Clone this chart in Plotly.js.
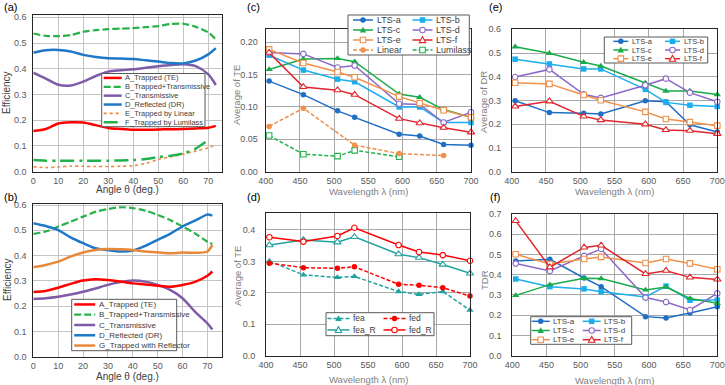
<!DOCTYPE html>
<html>
<head>
<meta charset="utf-8">
<script src="https://cdn.plot.ly/plotly-3.0.1.min.js"></script>
<style>body{margin:0;} #chart{width:725px;height:385px;}</style>
</head>
<body>
<div id="chart"></div>
<script>
// ---- (a) efficiency vs angle, without reflector
var angleA = [0, 5, 10, 15, 20, 25, 30, 35, 40, 45, 50, 55, 60, 65, 70, 73];
var aTrapped = [0.158, 0.166, 0.187, 0.192, 0.191, 0.181, 0.170, 0.166, 0.163, 0.163, 0.164, 0.165, 0.166, 0.168, 0.171, 0.178];
var aTrappedTrans = [0.537, 0.528, 0.527, 0.531, 0.544, 0.550, 0.554, 0.556, 0.558, 0.562, 0.566, 0.574, 0.575, 0.563, 0.541, 0.514];
var aTransmissive = [0.385, 0.362, 0.338, 0.335, 0.350, 0.372, 0.389, 0.394, 0.398, 0.404, 0.410, 0.415, 0.418, 0.410, 0.378, 0.337];
var aReflected = [0.462, 0.472, 0.473, 0.467, 0.454, 0.446, 0.441, 0.440, 0.438, 0.433, 0.428, 0.422, 0.421, 0.432, 0.456, 0.480];
var aLinear = [0.019, 0.016, 0.018, 0.022, 0.021, 0.020, 0.020, 0.021, 0.023, 0.032, 0.048, 0.058, 0.069, 0.080, 0.093, 0.104];
var aLumilass = [0.045, 0.043, 0.043, 0.043, 0.043, 0.043, 0.043, 0.044, 0.045, 0.049, 0.057, 0.062, 0.071, 0.090, 0.123, null];

// ---- (b) efficiency vs angle, with reflector
var angleB = [0, 5, 10, 15, 20, 25, 30, 35, 40, 45, 50, 55, 60, 65, 70, 72];
var bTrapped = [0.256, 0.260, 0.273, 0.288, 0.301, 0.306, 0.303, 0.297, 0.290, 0.286, 0.281, 0.277, 0.284, 0.296, 0.320, 0.337];
var bTrappedTrans = [0.486, 0.495, 0.515, 0.534, 0.554, 0.573, 0.584, 0.591, 0.588, 0.578, 0.561, 0.541, 0.515, 0.488, 0.455, 0.446];
var bTransmissive = [0.228, 0.231, 0.237, 0.246, 0.257, 0.270, 0.284, 0.295, 0.301, 0.297, 0.284, 0.264, 0.231, 0.178, 0.132, 0.108];
var bReflected = [0.528, 0.517, 0.501, 0.472, 0.449, 0.429, 0.422, 0.416, 0.420, 0.438, 0.462, 0.486, 0.515, 0.538, 0.562, 0.558];
var bWithReflector = [0.354, 0.363, 0.376, 0.396, 0.412, 0.422, 0.426, 0.425, 0.422, 0.416, 0.413, 0.409, 0.412, 0.411, 0.416, 0.442];

// ---- (c)-(f) vs wavelength
var wavelength = [405, 455, 505, 530, 595, 625, 660, 700];
var teA = [0.140, 0.119, 0.094, 0.084, 0.058, 0.055, 0.042, 0.041];
var teB = [0.180, 0.157, 0.143, 0.139, 0.100, 0.100, 0.076, 0.076];
var teC = [0.158, 0.174, 0.175, 0.170, 0.120, 0.115, 0.096, 0.084];
var teD = [0.184, 0.182, 0.161, 0.164, 0.105, 0.104, 0.076, 0.092];
var teE = [0.189, 0.168, 0.154, 0.146, 0.116, 0.106, 0.095, 0.084];
var teF = [0.184, 0.131, 0.126, 0.119, 0.082, 0.075, 0.068, 0.061];
var wlLinear = [405, 455, 530, 595, 660];
var teLinear = [0.070, 0.098, 0.041, 0.028, 0.025];
var wlLumilass = [405, 455, 505, 530, 595];
var teLumilass = [0.056, 0.027, 0.024, 0.033, 0.023];

var fea = [0.301, 0.257, 0.249, 0.252, 0.204, 0.195, 0.204, 0.145];
var fed = [0.294, 0.280, 0.278, 0.283, 0.227, 0.224, 0.216, 0.190];
var feaR = [0.352, 0.368, 0.361, 0.378, 0.323, 0.312, 0.290, 0.262];
var fedR = [0.377, 0.363, 0.381, 0.407, 0.352, 0.330, 0.320, 0.302];

var drA = [0.299, 0.249, 0.246, 0.243, 0.299, 0.295, 0.198, 0.167];
var drB = [0.474, 0.454, 0.433, 0.433, 0.347, 0.292, 0.280, 0.275];
var drC = [0.526, 0.499, 0.461, 0.445, 0.374, 0.340, 0.340, 0.325];
var drD = [0.399, 0.431, 0.326, 0.311, 0.364, 0.392, 0.333, 0.295];
var drE = [0.375, 0.370, 0.323, 0.301, 0.252, 0.222, 0.209, 0.194];
var drF = [0.275, 0.297, 0.233, 0.218, 0.200, 0.176, 0.173, 0.160];

var tdrA = [0.468, 0.476, 0.384, 0.341, 0.193, 0.186, 0.211, 0.242];
var tdrB = [0.379, 0.341, 0.330, 0.316, 0.290, 0.344, 0.274, 0.275];
var tdrC = [0.298, 0.351, 0.382, 0.381, 0.325, 0.339, 0.283, 0.259];
var tdrD = [0.455, 0.419, 0.493, 0.527, 0.287, 0.265, 0.226, 0.308];
var tdrE = [0.501, 0.453, 0.478, 0.488, 0.458, 0.478, 0.456, 0.427];
var tdrF = [0.666, 0.437, 0.535, 0.545, 0.404, 0.420, 0.387, 0.377];

var W = 725, H = 385;
var FONT = 'Liberation Sans, Arial, sans-serif';

// styles
var sA = {name: 'A_Trapped (TE)', color: '#FF0000', width: 2.5};
var sB = {name: 'B_Trapped+Transmissive', color: '#27B24A', width: 2.2, dash: '7px,3px'};
var sC = {name: 'C_Transmissive', color: '#7D5BA6', width: 2.5};
var sD = {name: 'D_Reflected (DR)', color: '#1F77C8', width: 2.5};
var sE = {name: 'E_Trapped by Linear', color: '#F0883A', width: 1.6, dash: 'dot'};
var sF = {name: 'F_Trapped by Lumilass', color: '#22B24C', width: 2.5, dash: '14px,5px,3px,5px'};
var sG = {name: 'G_Trapped with Reflector', color: '#E8893A', width: 2.5};

var ltsA = {name: 'LTS-a', color: '#1F6FC5', symbol: 'circle'};
var ltsB = {name: 'LTS-b', color: '#1AAEEF', symbol: 'square'};
var ltsC = {name: 'LTS-c', color: '#1AAB4B', symbol: 'triangle-up'};
var ltsD = {name: 'LTS-d', color: '#8C68C9', symbol: 'circle', open: true};
var ltsE = {name: 'LTS-e', color: '#F0904A', symbol: 'square', open: true};
var ltsF = {name: 'LTS-f', color: '#E0262C', symbol: 'triangle-up', open: true};
var sLinear = {name: 'Linear', color: '#F0904A', symbol: 'circle', dash: '4px,2px'};
var sLumilass = {name: 'Lumilass', color: '#25B24E', symbol: 'square', open: true, dash: '4px,2px'};
var sFea = {name: 'fea', color: '#1FA3A0', symbol: 'triangle-up', dash: '4px,2px'};
var sFed = {name: 'fed', color: '#FF0000', symbol: 'circle', dash: '4px,2px'};
var sFeaR = {name: 'fea_R', color: '#1FA3A0', symbol: 'triangle-up', open: true};
var sFedR = {name: 'fed_R', color: '#FF0000', symbol: 'circle', open: true};

function curve(xs, ys, st, n) {
  return {x: xs, y: ys, xaxis: 'x' + n, yaxis: 'y' + n, mode: 'lines', name: st.name,
    line: {color: st.color, width: st.width, dash: st.dash || 'solid', shape: 'spline', smoothing: 0.8},
    showlegend: false, hoverinfo: 'skip', cliponaxis: false};
}
function markerOf(st, size) {
  var s = st.symbol.indexOf('triangle') === 0 ? size + 1 : size;
  return {symbol: st.symbol, size: s, color: st.open ? '#FFFFFF' : st.color,
    line: {color: st.color, width: st.open ? 1.1 : 0}};
}
function series(xs, ys, st, n) {
  return {x: xs, y: ys, xaxis: 'x' + n, yaxis: 'y' + n, mode: 'lines+markers', name: st.name,
    line: {color: st.color, width: 1.5, dash: st.dash || 'solid'},
    marker: markerOf(st, 5.5), showlegend: false, hoverinfo: 'skip', cliponaxis: false};
}

var data = [];
[[aTrappedTrans, sB], [aTransmissive, sC], [aReflected, sD], [aLinear, sE], [aLumilass, sF], [aTrapped, sA]]
  .forEach(function (p) { data.push(curve(angleA, p[0], p[1], '')); });
[[bTrappedTrans, sB], [bTransmissive, sC], [bReflected, sD], [bWithReflector, sG], [bTrapped, sA]]
  .forEach(function (p) { data.push(curve(angleB, p[0], p[1], 2)); });
data.push(series(wlLumilass, teLumilass, sLumilass, 3));
data.push(series(wlLinear, teLinear, sLinear, 3));
[[teA, ltsA], [teB, ltsB], [teC, ltsC], [teD, ltsD], [teE, ltsE], [teF, ltsF]]
  .forEach(function (p) { data.push(series(wavelength, p[0], p[1], 3)); });
[[fea, sFea], [fed, sFed], [feaR, sFeaR], [fedR, sFedR]]
  .forEach(function (p) { data.push(series(wavelength, p[0], p[1], 4)); });
[[drA, ltsA], [drB, ltsB], [drC, ltsC], [drD, ltsD], [drE, ltsE], [drF, ltsF]]
  .forEach(function (p) { data.push(series(wavelength, p[0], p[1], 5)); });
[[tdrA, ltsA], [tdrB, ltsB], [tdrC, ltsC], [tdrD, ltsD], [tdrE, ltsE], [tdrF, ltsF]]
  .forEach(function (p) { data.push(series(wavelength, p[0], p[1], 6)); });

// pixel -> paper helpers
function px(x) { return x / W; }
function py(y) { return 1 - y / H; }
function xdom(x0, x1) { return [px(x0), px(x1)]; }
function ydom(y0, y1) { return [py(y1), py(y0)]; }

var layout = {
  width: W, height: H, margin: {l: 0, r: 0, t: 0, b: 0},
  paper_bgcolor: '#FFFFFF', plot_bgcolor: '#FFFFFF',
  font: {family: FONT, size: 9, color: '#595959'},
  showlegend: false, hovermode: false,
  annotations: [], shapes: []
};

function mainAxes(n, xd, yd, xr, yr, dx, dy, fmt, grid, ystand) {
  var common = {showline: true, mirror: true, linecolor: '#262626', linewidth: 1,
    showgrid: true, gridcolor: grid, gridwidth: 1, zeroline: false, ticks: '',
    tickfont: {family: FONT, size: 9, color: '#595959'}, fixedrange: true};
  layout['xaxis' + n] = Object.assign({}, common, {domain: xd, range: xr, dtick: dx, tick0: 0,
    anchor: 'y' + n, ticklabelstandoff: 0});
  layout['yaxis' + n] = Object.assign({}, common, {domain: yd, range: yr, dtick: dy, tick0: 0,
    anchor: 'x' + n, tickformat: fmt, ticklabelstandoff: ystand});
}
mainAxes('', xdom(33.3, 222.3), ydom(15, 171.7), [0, 75.6], [0, 0.609], 10, 0.1, '.1f', '#C4C4C4', 4);
mainAxes(2, xdom(33.3, 222.3), ydom(204, 356.7), [0, 76], [0, 0.604], 10, 0.1, '.1f', '#C4C4C4', 4);
mainAxes(3, xdom(265.7, 471), ydom(29.3, 171.7), [400, 700], [0, 0.22], 50, 0.05, '.2f', '#A8A8A8', 5);
mainAxes(4, xdom(266, 470), ydom(213.3, 355.7), [400, 700], [0, 0.453], 50, 0.1, '.1f', '#A8A8A8', 8);
mainAxes(5, xdom(511.7, 717.3), ydom(29.3, 171.7), [400, 700], [0, 0.6], 50, 0.1, '.1f', '#A8A8A8', 8);
mainAxes(6, xdom(512.3, 717.3), ydom(214, 355.7), [400, 700], [0, 0.7], 50, 0.1, '.1f', '#A8A8A8', 8);

// legend marker drawn as a shape (pixel centre, pixel size)
function markerShape(st, cx, cy, s) {
  var r = s / 2;
  var sh = {xref: 'paper', yref: 'paper', layer: 'above',
    fillcolor: st.open ? '#FFFFFF' : st.color,
    line: {color: st.color, width: st.open ? 1.1 : 0}};
  if (st.symbol === 'triangle-up') {
    r += 0.5;
    sh.type = 'path';
    sh.path = 'M' + px(cx - r) + ',' + py(cy + r * 0.8) + 'L' + px(cx + r) + ',' + py(cy + r * 0.8) +
      'L' + px(cx) + ',' + py(cy - r) + 'Z';
  } else {
    sh.type = st.symbol === 'square' ? 'rect' : 'circle';
    sh.x0 = px(cx - r); sh.x1 = px(cx + r); sh.y0 = py(cy + r); sh.y1 = py(cy - r);
  }
  return sh;
}

// legends built from shapes + annotations on top of the plots (box in pixels)
function addLegend(box, entries, opt) {
  var h = box[3] - box[1];
  layout.shapes.push({type: 'rect', xref: 'paper', yref: 'paper', layer: 'above',
    x0: px(box[0]), x1: px(box[2]), y0: py(box[3]), y1: py(box[1]),
    fillcolor: '#FFFFFF', line: {color: '#595959', width: 1}});
  var rows = Math.ceil(entries.length / opt.cols);
  entries.forEach(function (st, i) {
    var c = i % opt.cols, r = Math.floor(i / opt.cols);
    var x0 = box[0] + opt.pad + c * opt.colW, x1 = x0 + opt.sw, y = box[1] + (r + 0.5) * h / rows;
    layout.shapes.push({type: 'line', xref: 'paper', yref: 'paper', layer: 'above',
      x0: px(x0), x1: px(x1), y0: py(y), y1: py(y),
      line: {color: st.color, width: st.symbol ? 1.5 : st.width, dash: st.dash || 'solid'}});
    if (st.symbol) layout.shapes.push(markerShape(st, (x0 + x1) / 2, y, 5.5));
    layout.annotations.push({xref: 'paper', yref: 'paper', x: px(x1 + 1.5), y: py(y), text: st.name,
      showarrow: false, xanchor: 'left', yanchor: 'middle',
      font: {family: FONT, size: opt.font, color: '#404040'}});
  });
}
addLegend([101.7, 73.5, 205, 126.7], [sA, sB, sC, sD, sE, sF], {cols: 1, pad: 2, colW: 0, sw: 18, font: 7.5});
addLegend([71.7, 299.3, 176.7, 350.7], [sA, sB, sC, sD, sG], {cols: 1, pad: 2.5, colW: 0, sw: 21, font: 8});
addLegend([348, 15, 469.3, 55], [ltsA, ltsB, ltsC, ltsD, ltsE, ltsF, sLinear, sLumilass], {cols: 2, pad: 5, colW: 59.5, sw: 20, font: 9});
addLegend([326, 312.7, 434, 335.7], [sFea, sFed, sFeaR, sFedR], {cols: 2, pad: 1.5, colW: 56, sw: 22, font: 8.5});
addLegend([604.3, 37, 707.7, 63], [ltsA, ltsB, ltsC, ltsD, ltsE, ltsF], {cols: 2, pad: 9, colW: 51.7, sw: 15, font: 7.5});
addLegend([530.7, 316.7, 631.7, 344.3], [ltsA, ltsB, ltsC, ltsD, ltsE, ltsF], {cols: 2, pad: 1, colW: 51, sw: 18, font: 8});

// axis titles and panel labels
function label(text, x, y, size, color, angle) {
  layout.annotations.push({xref: 'paper', yref: 'paper', x: px(x), y: py(y), text: text,
    showarrow: false, xanchor: 'center', yanchor: 'middle', textangle: angle || 0,
    font: {family: FONT, size: size, color: color}});
}
label('(a)', 10, 7, 11, '#000000');
label('(b)', 10, 197, 11, '#000000');
label('(c)', 253, 7, 11, '#000000');
label('(d)', 253, 197, 11, '#000000');
label('(e)', 495, 7, 11, '#000000');
label('(f)', 495, 197, 11, '#000000');
label('Efficiency', 7, 93, 10, '#404040', -90);
label('Efficiency', 7, 280, 10, '#404040', -90);
label('Angle θ (deg.)', 127, 189, 10, '#404040');
label('Angle θ (deg.)', 127, 376, 10, '#404040');
label('Average of TE', 237, 95, 9.5, '#808080', -90);
label('Average of TE', 237, 276, 9.5, '#808080', -90);
label('Average of DR', 484, 102, 9.5, '#808080', -90);
label('TDR', 484, 280, 9.5, '#808080', -90);
label('Wavelength λ (nm)', 368, 192, 9.5, '#808080');
label('Wavelength λ (nm)', 368, 379, 9.5, '#808080');
label('Wavelength λ (nm)', 614, 192, 9.5, '#808080');
label('Wavelength λ (nm)', 614, 380, 9.5, '#808080');

Plotly.newPlot('chart', data, layout, {displayModeBar: false, staticPlot: true});
</script>
</body>
</html>
